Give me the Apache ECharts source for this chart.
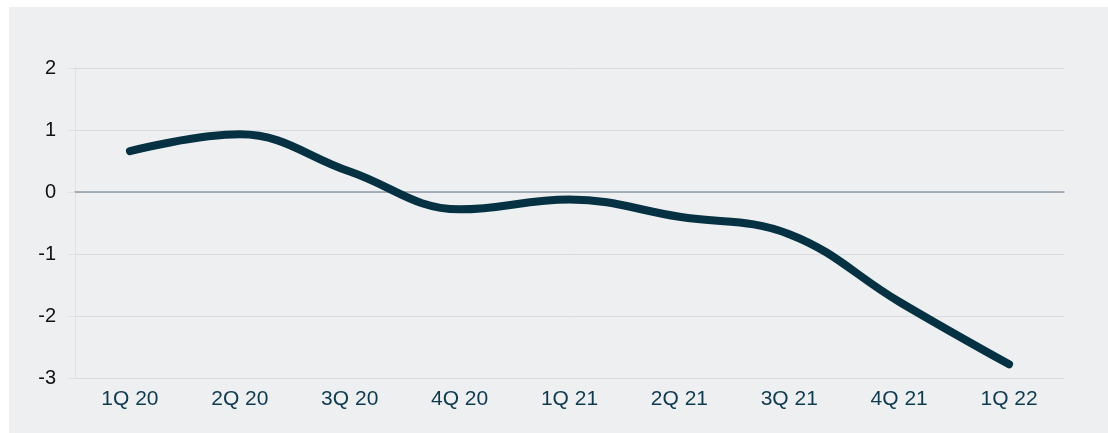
<!DOCTYPE html>
<html>
<head>
<meta charset="utf-8">
<script src="https://cdn.jsdelivr.net/npm/echarts@6/dist/echarts.min.js"></script>
<style>
  html, body { margin: 0; padding: 0; background: #ffffff; }
  #panel { position: absolute; left: 9px; top: 7px; width: 1099px; height: 426px; background: #edeff1; }
</style>
</head>
<body>
<div id="panel"></div>
<script>
// quarters and values
var quarters = ['1Q 20', '2Q 20', '3Q 20', '4Q 20', '1Q 21', '2Q 21', '3Q 21', '4Q 21', '1Q 22'];
var values = [0.66, 0.93, 0.33, -0.28, -0.12, -0.40, -0.68, -1.77, -2.78];
var yTicks = { min: -3, max: 2, step: 1 };

var chart = echarts.init(document.getElementById('panel'));
chart.setOption({
  animation: false,
  grid: { left: 66, right: 44, top: 61, bottom: 55 },
  xAxis: {
    type: 'category',
    data: quarters,
    boundaryGap: true,
    axisLine: { onZero: true, lineStyle: { color: '#8e9ca6', width: 1.5 } },
    axisTick: { show: false },
    axisLabel: { color: '#0f3a4e', fontSize: 21, fontFamily: 'Liberation Sans, Arial', margin: 11 }
  },
  yAxis: {
    type: 'value',
    min: yTicks.min,
    max: yTicks.max,
    interval: yTicks.step,
    axisLine: { show: true, lineStyle: { color: '#dfe1e4' } },
    axisTick: { show: true, length: 7, lineStyle: { color: '#dfe1e4' } },
    axisLabel: { color: '#111111', fontSize: 20, fontFamily: 'Liberation Sans, Arial', margin: 19 },
    splitLine: { lineStyle: { color: '#d8dadd', width: 1 } }
  },
  series: [{
    type: 'line',
    data: values,
    smooth: 0.4,
    symbol: 'none',
    lineStyle: { color: '#053142', width: 8, cap: 'round', join: 'round' }
  }]
});
</script>
</body>
</html>
